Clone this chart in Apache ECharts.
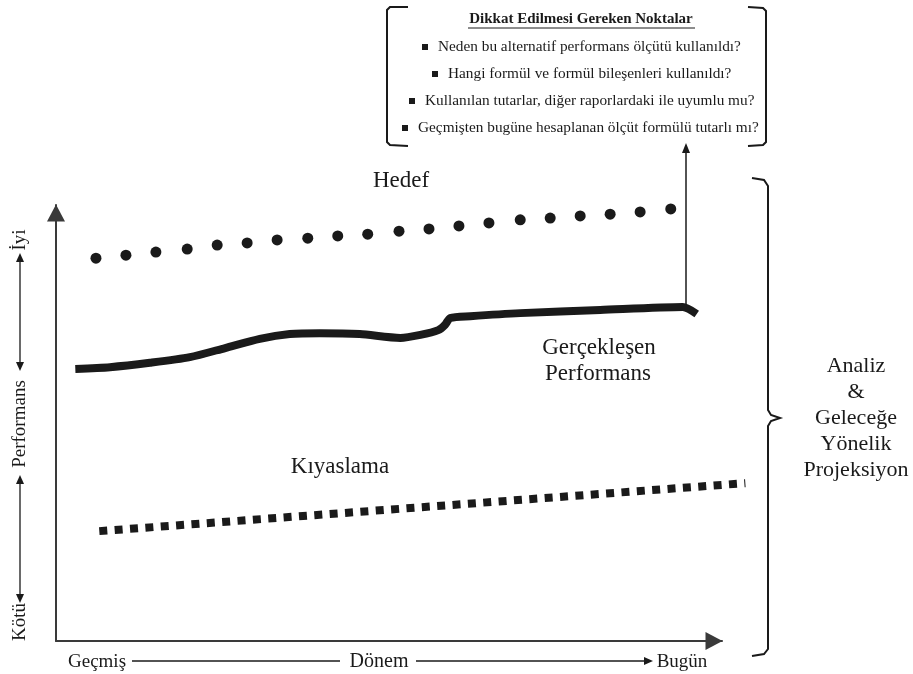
<!DOCTYPE html>
<html>
<head>
<meta charset="utf-8">
<title>Performans</title>
<script src="https://cdn.jsdelivr.net/npm/echarts@6/dist/echarts.min.js"></script>
</head>
<body style="margin:0;background:#fff">
<div id="chart" style="width:913px;height:674px;"></div>
<script>
// x: Dönem (0 = geçmiş, 100 = bugün), y: performans (0 = kötü, 100 = iyi)
var hedefX = [6.0, 10.5, 15.0, 19.7, 24.2, 28.7, 33.2, 37.8, 42.3, 46.8, 51.5, 56.0, 60.5, 65.0, 69.7, 74.2, 78.7, 83.2, 87.7, 92.3];
var hedefY = [87.8, 88.5, 89.2, 89.9, 90.8, 91.3, 92.0, 92.4, 92.9, 93.3, 94.0, 94.5, 95.2, 95.9, 96.6, 97.0, 97.5, 97.9, 98.4, 99.1];

var gercekX = [2.9, 8.1, 14.1, 20.1, 25.4, 30.6, 35.1, 39.6, 45.6, 51.7, 54.7, 57.4, 58.4, 59.2, 62.2, 69.7, 81.7, 94.1, 96.2];
var gercekY = [62.4, 62.8, 63.8, 65.1, 67.2, 69.3, 70.4, 70.6, 70.4, 69.5, 70.2, 71.3, 72.5, 74.1, 74.5, 75.2, 75.9, 76.6, 75.0];

// kıyaslama çizgisi eksen okunun biraz ötesine uzanıyor
var kiyasX = [6.5, 103.5];
var kiyasY = [25.2, 36.2];

var notlar = [
  'Neden bu alternatif performans ölçütü kullanıldı?',
  'Hangi formül ve formül bileşenleri kullanıldı?',
  'Kullanılan tutarlar, diğer raporlardaki ile uyumlu mu?',
  'Geçmişten bugüne hesaplanan ölçüt formülü tutarlı mı?'
];
var analizSatirlari = ['Analiz', '&', 'Geleceğe', 'Yönelik', 'Projeksiyon'];

function zip(xs, ys) {
  return xs.map(function (x, i) { return [x, ys[i]]; });
}

var serif = '"Liberation Serif", "DejaVu Serif", serif';
var ink = '#1a1a1a';

function txt(x, y, s, size, opts) {
  opts = opts || {};
  return {
    type: 'text', x: x, y: y, rotation: opts.rotation || 0,
    style: {
      text: s, fill: ink, font: (opts.bold ? 'bold ' : '') + size + 'px ' + serif,
      textAlign: opts.align || 'center', textVerticalAlign: 'middle'
    }
  };
}
function poly(points, w) {
  return { type: 'polyline', shape: { points: points }, style: { stroke: ink, lineWidth: w || 1.6, fill: null } };
}
function tri(points) {
  return { type: 'polygon', shape: { points: points }, style: { fill: ink } };
}

var graphics = [];
// sol: performans etiketi
graphics.push(txt(20, 240, 'İyi', 19, { rotation: Math.PI / 2 }));
graphics.push(txt(20, 424, 'Performans', 19, { rotation: Math.PI / 2 }));
graphics.push(txt(20, 622, 'Kötü', 19, { rotation: Math.PI / 2 }));
graphics.push(poly([[20, 259], [20, 365]], 1.3));
graphics.push(tri([[16, 262], [24, 262], [20, 253]]));
graphics.push(tri([[16, 362], [24, 362], [20, 371]]));
graphics.push(poly([[20, 480], [20, 597]], 1.3));
graphics.push(tri([[16, 484], [24, 484], [20, 475]]));
graphics.push(tri([[16, 594], [24, 594], [20, 603]]));
// alt: dönem etiketi
graphics.push(txt(97, 662, 'Geçmiş', 19));
graphics.push(txt(379, 662, 'Dönem', 20));
graphics.push(txt(682, 662, 'Bugün', 19));
graphics.push(poly([[132, 661], [340, 661]], 1.3));
graphics.push(poly([[416, 661], [646, 661]], 1.3));
graphics.push(tri([[644, 657], [644, 665], [653, 661]]));
// seri etiketleri
graphics.push(txt(401, 181, 'Hedef', 23));
graphics.push(txt(599, 348, 'Gerçekleşen', 23));
graphics.push(txt(598, 374, 'Performans', 23));
graphics.push(txt(340, 467, 'Kıyaslama', 23));
// gerçekleşen -> not kutusu oku
graphics.push(poly([[686, 306], [686, 152]], 1.5));
graphics.push(tri([[682, 153], [690, 153], [686, 143]]));
// not kutusu
graphics.push(poly([[408, 7], [390, 7], [387, 10], [387, 142], [390, 145], [408, 146]], 2));
graphics.push(poly([[748, 7], [763, 8], [766, 11], [766, 142], [763, 145], [748, 146]], 2));
graphics.push(txt(581, 19, 'Dikkat Edilmesi Gereken Noktalar', 15, { bold: true }));
graphics.push({ type: 'line', shape: { x1: 468, y1: 28, x2: 695, y2: 28 }, style: { stroke: ink, lineWidth: 1 } });
var bulletX = [425, 435, 412, 405];
notlar.forEach(function (s, i) {
  var y = 47 + i * 27;
  graphics.push({ type: 'rect', shape: { x: bulletX[i] - 3, y: y - 3, width: 6, height: 6 }, style: { fill: ink } });
  graphics.push(txt(bulletX[i] + 13, y, s, 15.3, { align: 'left' }));
});
// sağ: büyük parantez
graphics.push(poly([[752, 178], [764, 180], [768, 186], [768, 410], [771, 415], [780, 418], [771, 421], [768, 426], [768, 649], [764, 654], [752, 656]], 2));
analizSatirlari.forEach(function (s, i) {
  graphics.push(txt(856, 366 + i * 26, s, 22));
});

var hiddenAxis = {
  type: 'value', min: 0, show: false,
  axisLine: { show: false }, axisTick: { show: false }, axisLabel: { show: false }, splitLine: { show: false }
};
function shownAxis(index) {
  return {
    type: 'value', min: 0, max: 100, gridIndex: index,
    axisLine: {
      show: true, lineStyle: { color: '#3a3a3a', width: 2 },
      symbol: ['none', 'triangle'], symbolSize: [18, 17], symbolOffset: [0, -8]
    },
    axisTick: { show: false }, axisLabel: { show: false }, splitLine: { show: false }
  };
}

var chart = echarts.init(document.getElementById('chart'));
chart.setOption({
  backgroundColor: '#ffffff',
  animation: false,
  grid: [
    // görünen eksenler
    { left: 56, right: 191, top: 205, bottom: 33, containLabel: false },
    // veri alanı: aynı ölçek, sağa doğru 106'ya kadar
    { left: 56, right: 151, top: 205, bottom: 33, containLabel: false }
  ],
  xAxis: [
    shownAxis(0),
    Object.assign({}, hiddenAxis, { gridIndex: 1, max: 106 })
  ],
  yAxis: [
    shownAxis(0),
    Object.assign({}, hiddenAxis, { gridIndex: 1, max: 100 })
  ],
  series: [
    {
      name: 'Hedef', type: 'scatter', xAxisIndex: 1, yAxisIndex: 1,
      data: zip(hedefX, hedefY),
      symbol: 'circle', symbolSize: 11, itemStyle: { color: ink, opacity: 1 }
    },
    {
      name: 'Gerçekleşen Performans', type: 'line', xAxisIndex: 1, yAxisIndex: 1,
      data: zip(gercekX, gercekY),
      showSymbol: false, smooth: 0.25,
      lineStyle: { color: ink, width: 8, cap: 'butt', join: 'round' }
    },
    {
      name: 'Kıyaslama', type: 'line', xAxisIndex: 1, yAxisIndex: 1,
      data: zip(kiyasX, kiyasY),
      showSymbol: false,
      lineStyle: { color: ink, width: 8, type: [8, 7.4], cap: 'butt' }
    }
  ],
  graphic: graphics
});
</script>
</body>
</html>
